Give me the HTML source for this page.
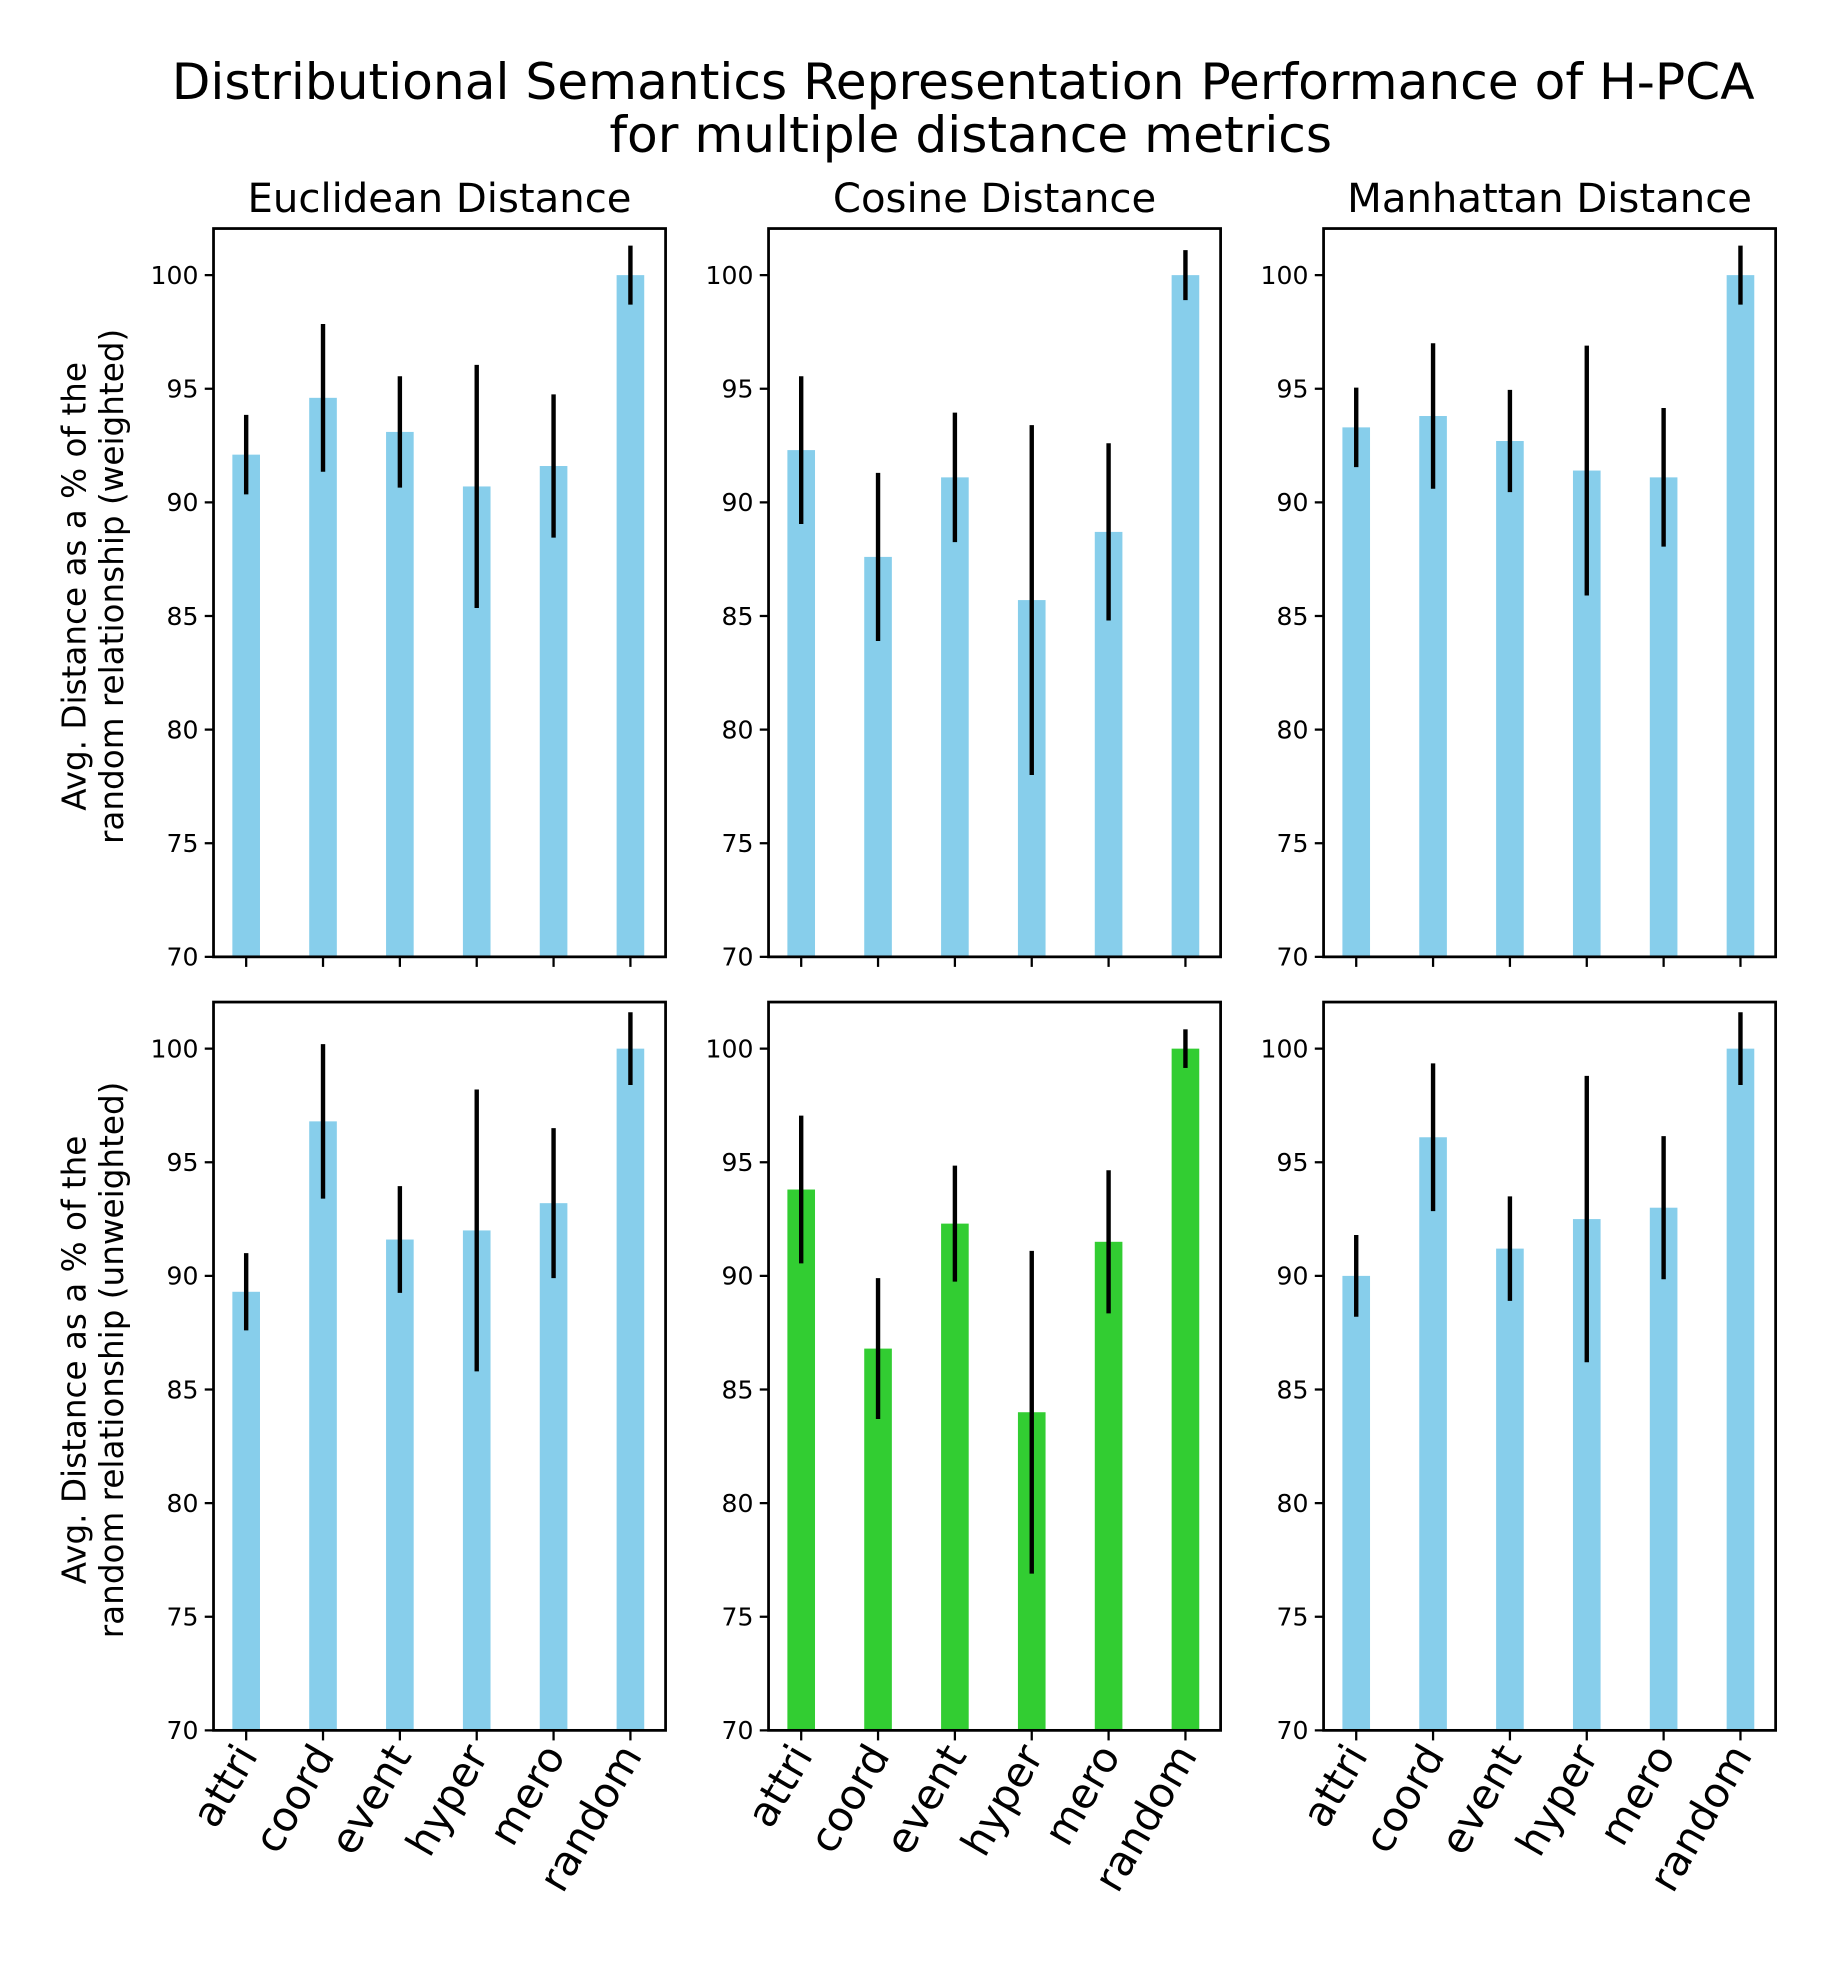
<!DOCTYPE html>
<html><head><meta charset="utf-8"><style>
html,body{margin:0;padding:0;background:#fff;}
svg{display:block;font-family:"DejaVu Sans","Liberation Sans",sans-serif;}
</style></head><body>
<svg id="chart" width="1846" height="1979" viewBox="0 0 1470 1576" xmlns="http://www.w3.org/2000/svg">
<text x="767" y="79" text-anchor="middle" font-size="40">Distributional Semantics Representation Performance of H-PCA</text>
<text x="773" y="121" text-anchor="middle" font-size="40">for multiple distance metrics</text>
<g id="plots"></g>
</svg>
<script>
const categories = ["attri","coord","event","hyper","mero","random"];
const panelTitles = ["Euclidean Distance","Cosine Distance","Manhattan Distance"];
const yTicks = [70,75,80,85,90,95,100];
const eucWeighted = [92.1,94.6,93.1,90.7,91.6,100];
const eucWeightedErr = [1.75,3.25,2.45,5.35,3.15,1.3];
const cosWeighted = [92.3,87.6,91.1,85.7,88.7,100];
const cosWeightedErr = [3.25,3.7,2.85,7.7,3.9,1.1];
const manWeighted = [93.3,93.8,92.7,91.4,91.1,100];
const manWeightedErr = [1.75,3.2,2.25,5.5,3.05,1.3];
const eucUnweighted = [89.3,96.8,91.6,92.0,93.2,100];
const eucUnweightedErr = [1.7,3.4,2.35,6.2,3.3,1.6];
const cosUnweighted = [93.8,86.8,92.3,84.0,91.5,100];
const cosUnweightedErr = [3.25,3.1,2.55,7.1,3.15,0.85];
const manUnweighted = [90.0,96.1,91.2,92.5,93.0,100];
const manUnweightedErr = [1.8,3.25,2.3,6.3,3.15,1.6];

const NS="http://www.w3.org/2000/svg";
const root=document.getElementById('plots');
function mk(tag,attrs,parent){const e=document.createElementNS(NS,tag);for(const k in attrs)e.setAttribute(k,attrs[k]);(parent||root).appendChild(e);return e;}
const lefts=[170,612,1054], W=360;
const rows=[{top:182,bottom:762,label:"(weighted)",series:[[eucWeighted,eucWeightedErr],[cosWeighted,cosWeightedErr],[manWeighted,manWeightedErr]]},
            {top:798,bottom:1378,label:"(unweighted)",series:[[eucUnweighted,eucUnweightedErr],[cosUnweighted,cosUnweightedErr],[manUnweighted,manUnweightedErr]]}];
const yMin=70,yMax=102.05;
rows.forEach((row,ri)=>{
  const yS=v=>row.bottom-(v-yMin)/(yMax-yMin)*(row.bottom-row.top);
  const cy=(row.top+row.bottom)/2-5;
  const yl=mk('text',{x:0,y:0,'font-size':26,'text-anchor':'middle',transform:`translate(68,${cy}) rotate(-90)`});
  
  
  yl.textContent="Avg. Distance as a % of the";
  const yl2=mk('text',{x:0,y:0,'font-size':26,'text-anchor':'middle',transform:`translate(98,${cy}) rotate(-90)`});
  
  
  yl2.textContent="random relationship "+row.label;
  lefts.forEach((L,pi)=>{
    const g=mk('g',{});
    
    
    const xS=i=>L+26+i*61.2;
    const [vals,errs]=row.series[pi];
    const color=(ri===1&&pi===1)?'#32CD32':'#87CEEB';
    vals.forEach((v,i)=>{
      const b=mk('rect',{x:xS(i)-11,y:yS(v),width:22,height:row.bottom-yS(v),fill:color},g);
      
      
    });
    vals.forEach((v,i)=>{
      const e=mk('line',{x1:xS(i),x2:xS(i),y1:yS(v-errs[i]),y2:Math.max(row.top,yS(v+errs[i])),stroke:'#000','stroke-width':3.5},g);
      
      
    });
    const f=mk('rect',{x:L,y:row.top,width:W,height:row.bottom-row.top,fill:'none',stroke:'#000','stroke-width':2.2},g);
    
    
    yTicks.forEach(t=>{
      mk('line',{x1:L-7,x2:L,y1:yS(t),y2:yS(t),stroke:'#000','stroke-width':1.8},g);
      const tl=mk('text',{x:L-12,y:yS(t)+7,'font-size':20,'text-anchor':'end'},g);
      
      
      tl.textContent=t;
    });
    categories.forEach((c,i)=>{
      mk('line',{x1:xS(i),x2:xS(i),y1:row.bottom,y2:row.bottom+8,stroke:'#000','stroke-width':1.8},g);
      if(ri===1){
        const xl=mk('text',{x:0,y:0,'font-size':33,'text-anchor':'end',transform:`translate(${xS(i)+10},${row.bottom+20}) rotate(-60)`},g);
        
        
        xl.textContent=c;
      }
    });
    if(ri===0){
      const t=mk('text',{x:L+W/2,y:169,'font-size':32,'text-anchor':'middle'},g);
      
      
      t.textContent=panelTitles[pi];
    }
  });
});
</script>
</body></html>
